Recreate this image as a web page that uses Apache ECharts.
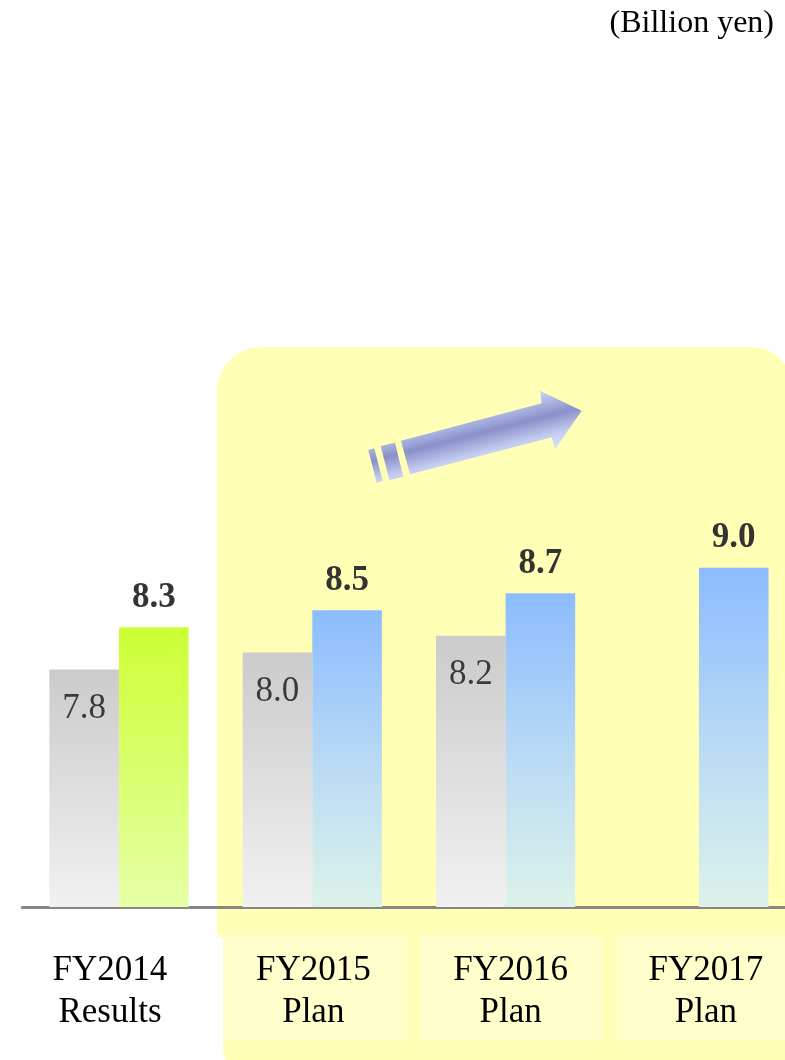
<!DOCTYPE html>
<html>
<head>
<meta charset="utf-8">
<script src="https://cdn.jsdelivr.net/npm/echarts@6/dist/echarts.min.js"></script>
<style>
  html, body { margin: 0; padding: 0; background: #ffffff; overflow: hidden; }
  #chart { width: 796px; height: 1060px; }
</style>
</head>
<body>
<div id="chart"></div>
<script>
// ---- Data ----
var categories = ['FY2014', 'FY2015', 'FY2016', 'FY2017'];
var subLabels = ['Results', 'Plan', 'Plan', 'Plan'];
var priorValues = [7.8, 8.0, 8.2, null];
var currentValues = [8.3, 8.5, 8.7, 9.0];
var unitLabel = '(Billion yen)';

// ---- Layout / style constants ----
var FONT = '"Liberation Serif", "Times New Roman", serif';
var labelShift = [-9, 1, 5, 7]; // small horizontal nudges of category text

var grey = {
  type: 'linear', x: 0, y: 0, x2: 0, y2: 1,
  colorStops: [{ offset: 0, color: '#cbcbcb' }, { offset: 1, color: '#f1f1f1' }]
};
var blue = {
  type: 'linear', x: 0, y: 0, x2: 0, y2: 1,
  colorStops: [{ offset: 0, color: '#8cbcff' }, { offset: 0.55, color: '#bcdcf4' }, { offset: 1, color: '#dcf2ea' }]
};
var green = {
  type: 'linear', x: 0, y: 0, x2: 0, y2: 1,
  colorStops: [{ offset: 0, color: '#ccff33' }, { offset: 1, color: '#e6ffa6' }]
};

var richStyles = {};
labelShift.forEach(function (s, i) {
  richStyles['c' + i] = {
    fontFamily: FONT, fontSize: 35, color: '#000', lineHeight: 42,
    padding: s >= 0 ? [0, 0, 0, 2 * s] : [0, -2 * s, 0, 0]
  };
});

var chart = echarts.init(document.getElementById('chart'), null, { renderer: 'canvas' });

var arrowFill = {
  type: 'linear', global: true,
  x: 462, y: 408, x2: 478, y2: 470,
  colorStops: [
    { offset: 0, color: '#d6dcfa' },
    { offset: 0.3, color: '#a4acdc' },
    { offset: 0.45, color: '#8a90c8' },
    { offset: 0.75, color: '#c4ccf2' },
    { offset: 1, color: '#dae2ff' }
  ]
};

var option = {
  backgroundColor: '#ffffff',
  animation: false,
  title: {
    text: unitLabel,
    right: 17, top: 3,
    textStyle: { fontFamily: FONT, fontWeight: 'normal', fontSize: 32, color: '#000' }
  },
  graphic: [
    { type: 'rect', z: -10, silent: true,
      shape: { x: 217, y: 347, width: 575, height: 590, r: [44, 40, 0, 0] },
      style: { fill: '#ffffb6' } },
    { type: 'rect', z: -10, silent: true,
      shape: { x: 223, y: 900, width: 565, height: 175, r: [0, 0, 22, 26] },
      style: { fill: '#ffffb6' } },
    { type: 'rect', z: -9, silent: true,
      shape: { x: 223, y: 935, width: 184, height: 106 }, style: { fill: '#ffffcc' } },
    { type: 'rect', z: -9, silent: true,
      shape: { x: 420, y: 935, width: 182, height: 106 }, style: { fill: '#ffffcc' } },
    { type: 'rect', z: -9, silent: true,
      shape: { x: 617, y: 935, width: 180, height: 106 }, style: { fill: '#ffffcc' } },
    // arrow body
    { type: 'polygon', z: -5, silent: true,
      shape: { points: [[401, 440.7], [541.7, 403.3], [540, 390.7], [581.7, 410.7], [555, 449.3], [551.7, 437.3], [410, 474.3]] },
      style: { fill: arrowFill } },
    { type: 'polygon', z: -5, silent: true,
      shape: { points: [[380.7, 446], [395, 442.7], [403.3, 476.7], [389.3, 480]] },
      style: { fill: arrowFill } },
    { type: 'polygon', z: -5, silent: true,
      shape: { points: [[368.3, 450], [374.3, 448.3], [382.7, 480.7], [376.7, 482.7]] },
      style: { fill: arrowFill } }
  ],
  grid: { left: 22.3, width: 773.3, top: 483, height: 424, containLabel: false },
  xAxis: {
    type: 'category',
    data: categories,
    axisTick: { show: false },
    axisLine: { show: true, lineStyle: { color: '#878787', width: 3 } },
    axisLabel: {
      margin: 43,
      interval: 0,
      formatter: function (v, i) {
        return '{c' + i + '|' + v + '}\n{c' + i + '|' + subLabels[i] + '}';
      },
      rich: richStyles
    }
  },
  yAxis: {
    type: 'value', min: 5, max: 10, show: false,
    splitLine: { show: false }
  },
  series: [
    {
      name: 'Prior',
      type: 'bar',
      data: priorValues,
      barWidth: 69.6,
      barGap: '0%',
      itemStyle: { color: grey },
      label: {
        show: true, position: 'insideTop', distance: 22,
        fontFamily: FONT, fontSize: 35, color: '#3a3a3a',
        formatter: function (p) { return p.value.toFixed(1); }
      }
    },
    {
      name: 'Current',
      type: 'bar',
      data: currentValues.map(function (v, i) {
        return i === 0 ? { value: v, itemStyle: { color: green } } : v;
      }),
      barWidth: 69.6,
      barGap: '0%',
      itemStyle: { color: blue },
      label: {
        show: true, position: 'top', distance: 12,
        fontFamily: FONT, fontSize: 35, fontWeight: 'bold', color: '#333',
        formatter: function (p) { return p.value.toFixed(1); }
      }
    }
  ]
};

chart.setOption(option);
</script>
</body>
</html>
